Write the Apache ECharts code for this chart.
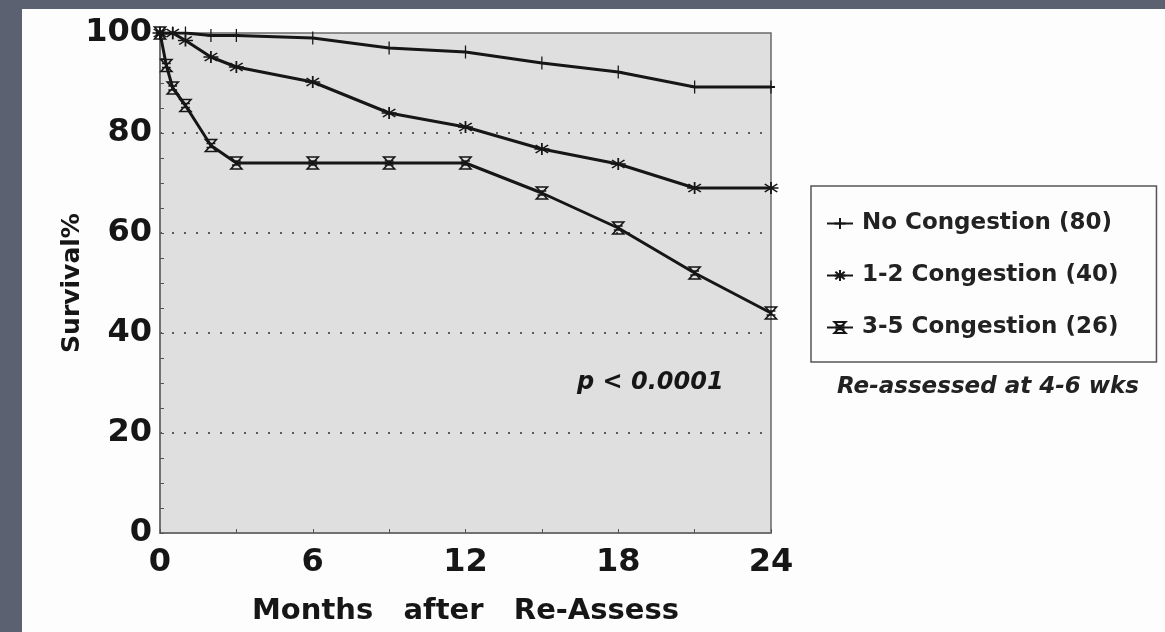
<!DOCTYPE html>
<html>
<head>
<meta charset="utf-8">
<script src="https://cdn.jsdelivr.net/npm/echarts@6/dist/echarts.min.js"></script>
<style>
  html, body { margin: 0; padding: 0; width: 1165px; height: 632px; overflow: hidden; background: #5c6171; }
  #panel { position: absolute; left: 22px; top: 9px; width: 1143px; height: 623px; background: #fdfdfd; }
  #chart { position: absolute; left: 0; top: 0; width: 1165px; height: 632px; }
</style>
</head>
<body>
<div id="panel"></div>
<div id="chart"></div>
<script>
// ---- data ----
const seriesNames = ['No Congestion (80)', '1-2 Congestion (40)', '3-5 Congestion (26)'];
const monthsNone = [0, 0.5, 1, 2, 3, 6, 9, 12, 15, 18, 21, 24];
const survivalNone = [100, 100, 100, 99.5, 99.5, 99, 97, 96.2, 94, 92.2, 89.2, 89.2];
const months12 = [0, 0.5, 1, 2, 3, 6, 9, 12, 15, 18, 21, 24];
const survival12 = [100, 100, 98.5, 95.2, 93.2, 90.2, 84, 81.2, 76.8, 73.8, 69, 69];
const months35 = [0, 0.25, 0.5, 1, 2, 3, 6, 9, 12, 15, 18, 21, 24];
const survival35 = [100, 93.5, 89, 85.5, 77.5, 74, 74, 74, 74, 68, 61, 52, 44];
const xTicks = [0, 6, 12, 18, 24];
const yTicks = [0, 20, 40, 60, 80, 100];
const pText = 'p < 0.0001';
const captionText = 'Re-assessed at 4-6 wks';
const xName = 'Months   after   Re-Assess';
const yName = 'Survival%';

function pairs(xs, ys) { return xs.map((x, i) => [x, ys[i]]); }

const FONT = '"DejaVu Sans", "Liberation Sans", Arial, sans-serif';
const INK = '#161616';

const symPlus = 'path://M0,-6L0,6M-3,0L3,0';
const symStar = 'path://M0,-6L0,6M-6,0L6,0M-5,-4L5,4M-5,4L5,-4';
const symGlass = 'path://M-5,-6L5,-6L-5,6L5,6ZM-4,-2L4,-2M-4,2L4,2';

const markerStyle = { color: 'none', borderColor: INK, borderWidth: 1.6 };

const chart = echarts.init(document.getElementById('chart'), null, { renderer: 'canvas' });
chart.setOption({
  animation: false,
  backgroundColor: 'transparent',
  grid: {
    left: 160, right: 394, top: 33, bottom: 99,
    show: true, backgroundColor: '#dfdfdf', borderColor: '#6a6a6a', borderWidth: 1.5
  },
  xAxis: {
    type: 'value', min: 0, max: 24, interval: 6,
    name: xName, nameLocation: 'middle', nameGap: 64,
    nameTextStyle: { fontFamily: FONT, fontWeight: 'bold', fontSize: 29, color: INK },
    axisLine: { show: true, lineStyle: { color: '#6a6a6a', width: 1.5 } },
    axisTick: { show: true, inside: true, length: 4, lineStyle: { color: '#555' } },
    minorTick: { show: true, splitNumber: 2, length: 4, lineStyle: { color: '#555' } },
    splitLine: { show: false },
    axisLabel: {
      margin: 14, fontFamily: FONT, fontWeight: 'bold', fontSize: 32, color: INK,
      formatter: v => xTicks.includes(v) ? String(v) : ''
    }
  },
  yAxis: {
    type: 'value', min: 0, max: 100, interval: 20,
    name: yName, nameLocation: 'middle', nameGap: 75, nameMoveOverlap: false,
    nameTextStyle: { fontFamily: FONT, fontWeight: 'bold', fontSize: 25, color: INK },
    axisLine: { show: true, lineStyle: { color: '#6a6a6a', width: 1.5 } },
    axisTick: { show: true, inside: true, length: 4, lineStyle: { color: '#555' } },
    minorTick: { show: true, splitNumber: 4, length: 4, lineStyle: { color: '#555' } },
    splitLine: {
      show: true, showMinLine: false, showMaxLine: false,
      lineStyle: { color: '#5a5a5a', width: 2, type: [2, 10] }
    },
    axisLabel: {
      margin: 8, fontFamily: FONT, fontWeight: 'bold', fontSize: 32, color: INK,
      formatter: v => yTicks.includes(v) ? String(v) : ''
    }
  },
  legend: {
    orient: 'vertical', left: 811, top: 186,
    padding: [25, 38, 22, 15],
    itemGap: 27, itemWidth: 26, itemHeight: 14,
    borderColor: '#555', borderWidth: 1.5, backgroundColor: '#fdfdfd',
    textStyle: { fontFamily: FONT, fontWeight: 'bold', fontSize: 23, color: '#222', lineHeight: 25, padding: [0, 0, 0, 4] },
    data: seriesNames
  },
  series: [
    {
      name: seriesNames[0], type: 'line', data: pairs(monthsNone, survivalNone),
      symbol: symPlus, symbolSize: [8, 13], showSymbol: true,
      lineStyle: { color: INK, width: 3 }, itemStyle: markerStyle, color: INK
    },
    {
      name: seriesNames[1], type: 'line', data: pairs(months12, survival12),
      symbol: symStar, symbolSize: [15, 12], showSymbol: true,
      lineStyle: { color: INK, width: 3 }, itemStyle: markerStyle, color: INK
    },
    {
      name: seriesNames[2], type: 'line', data: pairs(months35, survival35),
      symbol: symGlass, symbolSize: [11, 12], showSymbol: true,
      lineStyle: { color: INK, width: 3 }, itemStyle: markerStyle, color: INK
    }
  ],
  graphic: [
    {
      type: 'text', left: 577, top: 371,
      style: { text: pText, fontFamily: FONT, fontWeight: 'bold', fontStyle: 'italic', fontSize: 24, fill: INK }
    },
    {
      type: 'text', left: 837, top: 376,
      style: { text: captionText, fontFamily: FONT, fontWeight: 'bold', fontStyle: 'italic', fontSize: 23, fill: '#222' }
    }
  ]
});
</script>
</body>
</html>
